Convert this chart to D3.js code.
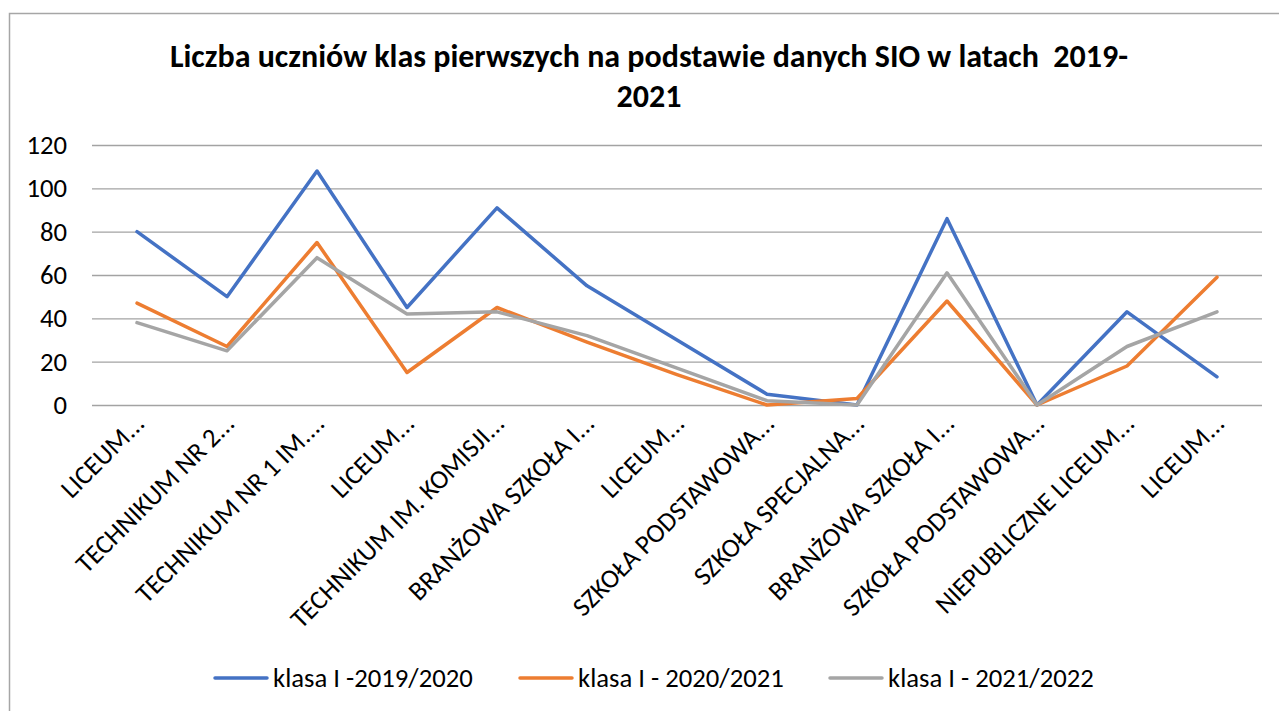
<!DOCTYPE html>
<html><head><meta charset="utf-8">
<script src="https://cdn.jsdelivr.net/npm/d3@7"></script>
<style>
html,body{margin:0;padding:0;background:#fff;}
svg{display:block;font-family:Carlito, Calibri, Lato, sans-serif;}
</style></head>
<body>
<svg id="c" width="1279" height="711"></svg>
<script>
const categories = ["LICEUM...","TECHNIKUM NR 2...","TECHNIKUM NR 1 IM....","LICEUM...","TECHNIKUM IM. KOMISJI...","BRANŻOWA SZKOŁA I...","LICEUM...","SZKOŁA PODSTAWOWA...","SZKOŁA SPECJALNA...","BRANŻOWA SZKOŁA I...","SZKOŁA PODSTAWOWA...","NIEPUBLICZNE LICEUM...","LICEUM..."];
const seriesNames = ["klasa I -2019/2020","klasa I - 2020/2021","klasa I - 2021/2022"];
const values2019 = [80, 50, 108, 45, 91, 55, 30, 5, 0, 86, 0, 43, 13];
const values2020 = [47, 27, 75, 15, 45, 29, 14, 0, 3, 48, 0, 18, 59];
const values2021 = [38, 25, 68, 42, 43, 32, 17, 2, 0, 61, 0, 27, 43];
const yTicks = [0, 20, 40, 60, 80, 100, 120];
const titleLines = ["Liczba uczniów klas pierwszych na podstawie danych SIO w latach  2019-", "2021"];

const colors = ["#4472C4", "#ED7D31", "#A5A5A5"];
const series = [values2019, values2020, values2021];
const FONT = "Carlito, Calibri, Lato, sans-serif";

const svg = d3.select("#c");
// outer chart border
svg.append("rect").attr("x", 9.5).attr("y", 13.5).attr("width", 1300).attr("height", 720)
  .attr("fill", "none").attr("stroke", "#A6A6A6").attr("stroke-width", 1.5);

const pLeft = 92, pRight = 1262, pTop = 145, pBottom = 405;
const x = d3.scaleBand().domain(d3.range(categories.length)).range([pLeft, pRight]).padding(0);
const y = d3.scaleLinear().domain([0, 120]).range([pBottom, pTop]);

// gridlines + y tick labels
const yAxis = d3.axisLeft(y).tickValues(yTicks).tickSize(-(pRight - pLeft)).tickPadding(25);
const gy = svg.append("g").attr("transform", `translate(${pLeft},0)`).call(yAxis);
gy.select(".domain").remove();
gy.selectAll(".tick line").attr("stroke", "#A3A3A3").attr("stroke-width", 1.3);
gy.selectAll(".tick text").attr("fill", "#000").style("font-size", "26.7px").style("font-family", FONT);

// x labels
const cx = i => x(i) + x.bandwidth() / 2;
svg.append("g").selectAll("text").data(categories).join("text")
  .attr("transform", (d, i) => `translate(${cx(i) + 9},${425}) rotate(-45)`)
  .attr("text-anchor", "end")
  .style("font-size", "26.7px")
  .attr("fill", "#000")
  .text(d => d);

// lines
const line = d3.line().x((d, i) => cx(i)).y(d => y(d));
series.forEach((s, k) => {
  svg.append("path").datum(s).attr("d", line)
    .attr("fill", "none").attr("stroke", colors[k]).attr("stroke-width", 3.5)
    .attr("stroke-linejoin", "round").attr("stroke-linecap", "round");
});

// title
svg.append("g").selectAll("text").data(titleLines).join("text")
  .attr("x", 649).attr("y", (d, i) => 67 + i * 40)
  .attr("text-anchor", "middle").style("font-size", "32px").style("font-weight", "bold")
  .style("white-space", "pre")
  .attr("fill", "#000").text(d => d);

// legend
const legendX = [215, 520, 830];
const lg = svg.append("g").selectAll("g").data(seriesNames).join("g")
  .attr("transform", (d, i) => `translate(${legendX[i]},678)`);
lg.append("line").attr("x1", 0).attr("x2", 52).attr("y1", 0).attr("y2", 0)
  .attr("stroke", (d, i) => colors[i]).attr("stroke-width", 3.5).attr("stroke-linecap", "round");
lg.append("text").attr("x", 58).attr("y", 9).style("font-size", "26.7px").attr("fill", "#000").text(d => d);
</script>
</body></html>
